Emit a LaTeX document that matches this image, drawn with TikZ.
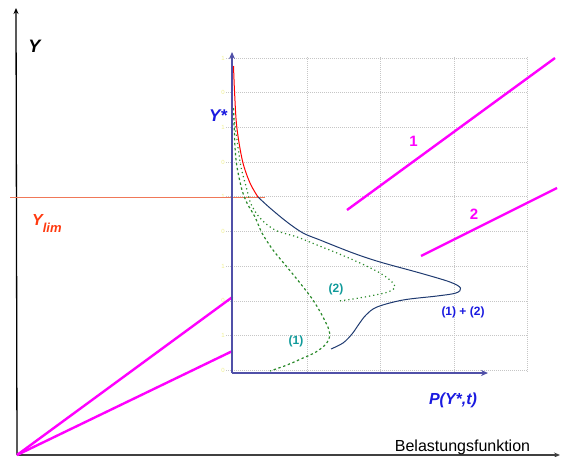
\documentclass[tikz,border=0pt]{standalone}
\usepackage{fontspec}
\setmainfont{Liberation Sans}
\usetikzlibrary{arrows.meta}
\definecolor{mag}{HTML}{FF00FF}
\definecolor{inax}{HTML}{5050A8}
\definecolor{navy}{HTML}{1F3A70}
\definecolor{grn}{HTML}{2A8A2A}
\definecolor{teal2}{HTML}{109A9A}
\definecolor{blu}{HTML}{1A1AE0}
\definecolor{limred}{HTML}{FF3A10}
\definecolor{limline}{HTML}{F07858}
\definecolor{tickyel}{HTML}{EFEF90}
\tikzset{
  gridline/.style={gray!45, line width=0.7pt, dash pattern=on 1pt off 1pt},
  mainaxis/.style={line width=1.3pt, -{Stealth[length=6pt,width=5pt]}},
  inneraxis/.style={inax, line width=1.4pt, -{Stealth[length=7pt,width=6pt]}},
  magline/.style={mag, line width=2.4pt},
  lab/.style={inner sep=0pt, font=\fontsize{16}{16}\selectfont\bfseries\itshape},
  numlab/.style={inner sep=0pt, font=\fontsize{15}{15}\selectfont\bfseries, text=mag},
  curvelab/.style={inner sep=0pt, font=\fontsize{12}{12}\selectfont\bfseries},
  ticklab/.style={inner sep=0pt, font=\fontsize{6}{6}\selectfont, text=tickyel}
}
\begin{document}
\begin{tikzpicture}[x=1pt,y=-1pt]
\useasboundingbox (0,0) rectangle (564,456);
% grid
\foreach \yy in {58,92.7,127.4,162.1,196.8,231.5,266.2,300.9,335.6,370.3} {
  \draw[gridline] (226,\yy) -- (527,\yy);
}
\foreach \xx in {307,380.5,454,527} {
  \draw[gridline] (\xx,57) -- (\xx,372);
}
\foreach \yy/\t in {58/1,92.7/0,127.4/1,162.1/0,196.8/1,231.5/0,266.2/1,300.9/0,335.6/1,370.3/0} {
  \node[ticklab] at (223,\yy) {\t};
}
% coordinates
\coordinate (O) at (17,455);
\coordinate (Ytop) at (16,8);
\coordinate (Xend) at (560,455);
\coordinate (iO) at (232,373);
\coordinate (iYtop) at (232,52);
\coordinate (iXend) at (488,373);
\coordinate (limL) at (10,197);
\coordinate (limR) at (265,197);
\coordinate (m1a) at (232.5,297);
\coordinate (m2a) at (232.5,351);
\coordinate (m1b) at (347,210);
\coordinate (m1c) at (555,58);
\coordinate (m2b) at (421,256);
\coordinate (m2c) at (557,188);
% main axes
\draw[mainaxis, black] (O) -- (Ytop);
\draw[mainaxis, black!75] (O) -- (Xend);
% limit line
\draw[limline, line width=0.8pt] (limL) -- (limR);
% magenta lines
\draw[magline] (O) -- (m1a);
\draw[magline] (O) -- (m2a);
\draw[magline] (m1b) -- (m1c);
\draw[magline] (m2b) -- (m2c);
% curves
\draw[red, line width=1pt] plot[smooth, tension=0.55] coordinates {(233.5,66) (234.6,93) (236.8,127) (242.5,161) (250,183) (258,197)};
\draw[navy, line width=1pt] plot[smooth, tension=0.55] coordinates {(258,197) (270,208) (287,222) (303,233) (320,240) (353,253) (380,262) (420,273) (450,282) (460.5,288) (456,293) (437,296) (403,300) (377,307) (366,315) (359,324) (352,334) (343,343) (331,349)};
\draw[grn, line width=1.2pt, dash pattern=on 2.4pt off 2.6pt] plot[smooth, tension=0.55] coordinates {(233.5,108) (235,147) (237,167) (242,190) (247,203) (255,217) (262,233) (273,250) (287,267) (300,283) (313,300) (323,317) (329,330) (329.5,337) (326,344) (316,352) (303,358) (287,365) (270,371)};
\draw[grn, line width=1.2pt, dash pattern=on 1.2pt off 3pt] plot[smooth, tension=0.55] coordinates {(234,118) (238,147) (241,167) (247,190) (251,204) (260,218) (275,230) (297,237) (317,245) (337,253) (360,263) (380,273) (391,281) (395,287) (388,292) (370,296) (353,299) (338,301)};
% inner axes
\draw[inneraxis] (iO) -- (iYtop);
\draw[inneraxis] (iO) -- (iXend);
% labels
\node[lab, text=black, font=\fontsize{18}{18}\selectfont\bfseries\itshape] (Y) at (34.5,46.5) {Y};
\node[lab, text=limred, anchor=base west] (Ylim) at (32,225) {Y\raisebox{-7pt}{\fontsize{13}{13}\selectfont\bfseries\itshape lim}};
\node[lab, text=blu, font=\fontsize{17}{17}\selectfont\bfseries\itshape] (Ys) at (218,115.5) {Y*};
\node[lab, text=blu] (P) at (453,400) {P(Y*,t)};
\node[inner sep=0pt, font=\fontsize{16}{16}\selectfont, anchor=base] (B) at (462.5,451) {Belastungsfunktion};
\node[numlab] (n1) at (413.5,141) {1};
\node[numlab] (n2) at (474,214) {2};
\node[curvelab, text=teal2] (c2) at (336,289.5) {(2)};
\node[curvelab, text=teal2] (c1) at (296,341.5) {(1)};
\node[curvelab, text=blu] (c12) at (463,312.5) {(1) + (2)};
\end{tikzpicture}
\end{document}
